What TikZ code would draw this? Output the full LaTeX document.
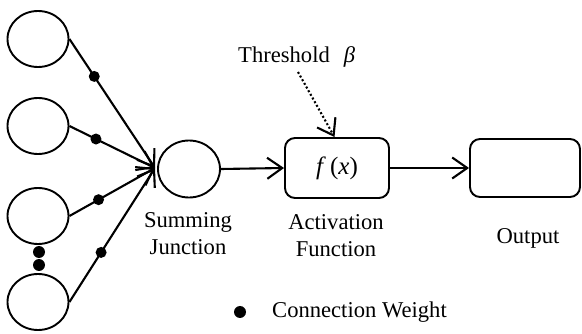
\documentclass[tikz,border=0pt]{standalone}
\usepackage{fontspec}
\setmainfont{Liberation Serif}
\usetikzlibrary{arrows.meta,shapes.geometric}
\begin{document}
\begin{tikzpicture}[x=1pt,y=-1pt,
 every node/.style={font=\fontsize{22.6}{27}\selectfont},
 inp/.style={draw, line width=1.9pt, ellipse, minimum width=61pt, minimum height=56pt, inner sep=0pt},
 wdot/.style={fill, circle, minimum size=11pt, inner sep=0pt},
 bigdot/.style={fill, circle, minimum size=12pt, inner sep=0pt},
 conn/.style={line width=2.1pt, -{Straight Barb[length=15pt,width=21pt,line width=2.1pt]}},
 blk/.style={draw, line width=1.9pt, rounded corners=10pt, inner sep=0pt},
 lbl/.style={align=center, inner sep=0pt}
]
\useasboundingbox (0,0) rectangle (582,334);
% inputs
\node[inp] (in1) at (38,39) {};
\node[inp] (in2) at (38,126) {};
\node[inp] (in3) at (38,216) {};
\node[inp] (in4) at (38,302) {};
\node[bigdot] (d1) at (39,252) {};
\node[bigdot] (d2) at (39,265) {};
% summing junction
\node[inp, minimum width=62pt, minimum height=57pt] (sum) at (189,169) {};
\coordinate (conv) at (155,168);
\draw[conn] (in1.east) -- node[wdot,pos=0.29] (w1) {} (conv);
\draw[conn] (in2.east) -- node[wdot,pos=0.31] (w2) {} (conv);
\draw[conn] (in3.east) -- node[wdot,pos=0.34] (w3) {} (conv);
\draw[conn] (in4.east) -- node[wdot,pos=0.37] (w4) {} (conv);
\node[lbl] (sumlbl) at (188,234) {Summing\\Junction};
% activation
\node[blk, minimum width=104pt, minimum height=60pt, font=\fontsize{25}{30}\selectfont] (act) at (337,168) {\textit{f}\,(\textit{x})};
\node[lbl] (actlbl) at (336,236) {Activation\\Function};
\draw[conn] (sum.east) -- (act.west);
% threshold
\node[lbl, anchor=west] (thr) at (238,57) {Threshold\hspace{14pt}\textit{β}};
\coordinate (ts) at (298,72);
\draw[conn, dash pattern=on 2pt off 2.2pt] (ts) -- ([xshift=-2.5pt]act.north);
% output
\node[blk, minimum width=110pt, minimum height=58pt] (out) at (525,168) {};
\node[lbl] (outlbl) at (528,238) {Output};
\draw[conn] (act.east) -- (out.west);
% legend
\node[bigdot] (ldot) at (240,312) {};
\node[lbl, anchor=west] (legtxt) at (272,312) {Connection Weight};
\end{tikzpicture}
\end{document}
